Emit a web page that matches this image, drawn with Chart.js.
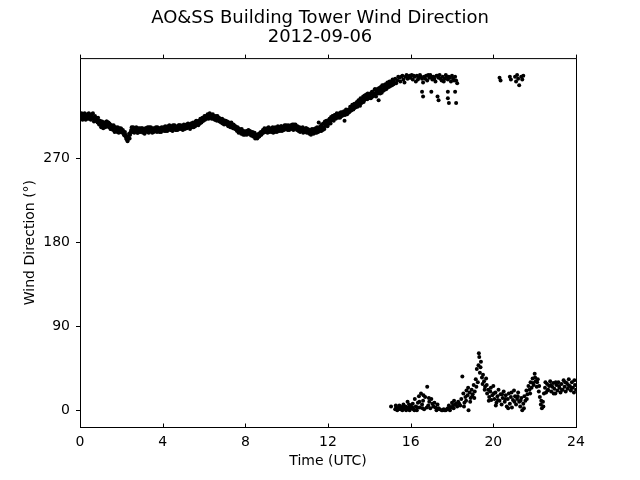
<!DOCTYPE html>
<html>
<head>
<meta charset="utf-8">
<script src="https://cdn.jsdelivr.net/npm/chart.js@4/dist/chart.umd.min.js"></script>
<style>
  body { margin: 0; background: #fff; }
  canvas { display: block; }
</style>
</head>
<body>
<canvas id="windChart" width="640" height="480"></canvas>
<script>
// hour (UTC), wind direction (deg)
const towerLine = [
  [0.00,316],[0.05,313],[0.10,315],[0.15,317],[0.20,314],[0.25,316],[0.30,313],[0.35,317],[0.40,315],[0.45,312],
  [0.50,315],[0.55,317],[0.60,314],[0.65,312],[0.70,313],[0.75,310],[0.80,312],[0.85,308],[0.90,310],[0.95,306],
  [1.00,308],[1.05,304],[1.10,306],[1.15,303],[1.20,307],[1.25,305],[1.30,309],[1.35,306],[1.40,303],[1.45,306],
  [1.50,301],[1.55,304],[1.60,300],[1.65,303],[1.70,299],[1.75,302],[1.80,298],[1.85,301],[1.90,302],[1.95,298],
  [2.00,301],[2.05,297],[2.10,298],[2.15,294],[2.20,295],[2.25,290],[2.30,288],[2.35,293],[2.40,291],[2.45,298],
  [2.50,303],[2.55,301],[2.60,298],[2.65,302],[2.70,299],[2.75,301],[2.80,297],[2.85,300],[2.90,302],[2.95,298],
  [3.00,300],[3.05,297],[3.10,301],[3.15,299],[3.20,302],[3.25,298],[3.30,300],[3.35,303],[3.40,299],[3.45,301],
  [3.50,297],[3.55,300],[3.60,302],[3.65,299],[3.70,301],[3.75,303],[3.80,300],[3.85,298],[3.90,301],[3.95,303],
  [4.00,300],[4.05,303],[4.10,301],[4.15,299],[4.20,302],[4.25,304],[4.30,301],[4.35,303],[4.40,300],[4.45,302],
  [4.50,305],[4.55,301],[4.60,303],[4.65,300],[4.70,304],[4.75,302],[4.80,305],[4.85,303],[4.90,301],[4.95,304],
  [5.00,303],[5.05,305],[5.10,302],[5.15,306],[5.20,304],[5.25,303],[5.30,306],[5.35,304],[5.40,307],[5.45,305],
  [5.50,303],[5.55,307],[5.60,309],[5.65,306],[5.70,308],[5.75,310],[5.80,307],[5.85,311],[5.90,309],[5.95,312],
  [6.00,313],[6.05,311],[6.10,315],[6.15,313],[6.20,316],[6.25,314],[6.30,317],[6.35,314],[6.40,315],[6.45,312],
  [6.50,314],[6.55,311],[6.60,313],[6.65,315],[6.70,311],[6.75,309],[6.80,312],[6.85,310],[6.90,307],[6.95,310],
  [7.00,308],[7.05,310],[7.10,306],[7.15,308],[7.20,305],[7.25,307],[7.30,304],[7.35,306],[7.40,302],[7.45,305],
  [7.50,301],[7.55,303],[7.60,299],[7.65,302],[7.70,298],[7.75,300],[7.80,296],[7.85,299],[7.90,295],[7.95,298],
  [8.00,296],[8.05,299],[8.10,297],[8.15,300],[8.20,296],[8.25,298],[8.30,295],[8.35,298],[8.40,294],[8.45,297],
  [8.50,293],[8.55,295],[8.60,292],[8.65,296],[8.70,294],[8.75,298],[8.80,296],[8.85,300],[8.90,298],[8.95,301],
  [9.00,299],[9.05,302],[9.10,298],[9.15,301],[9.20,299],[9.25,302],[9.30,300],[9.35,297],[9.40,301],[9.45,303],
  [9.50,300],[9.55,302],[9.60,299],[9.65,303],[9.70,301],[9.75,304],[9.80,300],[9.85,302],[9.90,305],[9.95,301],
  [10.00,303],[10.05,300],[10.10,304],[10.15,302],[10.20,305],[10.25,301],[10.30,303],[10.35,306],[10.40,302],[10.45,304],
  [10.50,300],[10.55,303],[10.60,301],[10.65,298],[10.70,302],[10.75,300],[10.80,297],[10.85,301],[10.90,299],[10.95,302],
  [11.00,298],[11.05,300],[11.10,296],[11.15,299],[11.20,297],[11.25,300],[11.30,296],[11.35,299],[11.40,302],[11.45,297],
  [11.50,300],[11.55,308],[11.60,299],[11.65,302],[11.70,306],[11.75,300],[11.80,303],[11.85,309],[11.90,305],[11.95,308],
  [12.00,306],[12.05,311],[12.10,309],[12.15,314],[12.20,311],[12.25,315],[12.30,313],[12.35,316],[12.40,314],[12.45,317],
  [12.50,315],[12.55,318],[12.60,314],[12.65,317],[12.70,319],[12.75,316],[12.80,310],[12.85,319],[12.90,321],[12.95,318],
  [13.00,322],[13.05,320],[13.10,324],[13.15,322],[13.20,326],[13.25,323],[13.30,327],[13.35,325],[13.40,330],[13.45,327],
  [13.50,331],[13.55,326],[13.60,333],[13.65,330],[13.70,336],[13.75,332],[13.80,335],[13.85,338],[13.90,333],[13.95,337],
  [14.00,336],[14.05,339],[14.10,335],[14.15,340],[14.20,337],[14.25,343],[14.30,338],[14.35,341],[14.40,344],[14.45,332],
  [14.50,342],[14.55,346],[14.60,340],[14.65,344],[14.70,348],[14.75,343],[14.80,347],[14.85,345],[14.90,350],[14.95,346],
  [15.00,349],[15.05,352],[15.10,348],[15.15,353],[15.20,351]
];

// readings in between, same band
const towerLineMid = [
  [0.025,312],[0.075,318],[0.125,311],[0.175,313],[0.225,318],[0.275,311],[0.325,316],[0.375,312],[0.425,318],[0.475,316],
  [0.525,311],[0.575,314],[0.625,318],[0.675,309],[0.725,315],[0.775,313],[0.825,309],[0.875,313],[0.925,306],[0.975,310],
  [1.025,303],[1.075,309],[1.125,302],[1.175,308],[1.225,303],[1.275,309],[1.325,304],[1.375,308],[1.425,307],[1.475,301],
  [1.525,305],[1.575,302],[1.625,305],[1.675,298],[1.725,303],[1.775,299],[1.825,303],[1.875,297],[1.925,299],[1.975,302],
  [2.025,298],[2.075,300],[2.125,295],[2.175,298],[2.225,292],[2.275,293],[2.325,290],[2.375,296],[2.425,295],[2.475,300],
  [2.525,298],[2.575,303],[2.625,297],[2.675,299],[2.725,303],[2.775,297],[2.825,302],[2.875,298],[2.925,299],[2.975,302],
  [3.025,302],[3.075,299],[3.125,296],[3.175,302],[3.225,300],[3.275,303],[3.325,297],[3.375,301],[3.425,303],[3.475,298],
  [3.525,302],[3.575,298],[3.625,299],[3.675,303],[3.725,298],[3.775,300],[3.825,302],[3.875,302],[3.925,298],[3.975,300],
  [4.025,302],[4.075,299],[4.125,304],[4.175,303],[4.225,299],[4.275,301],[4.325,305],[4.375,300],[4.425,304],[4.475,299],
  [4.525,302],[4.575,305],[4.625,300],[4.675,303],[4.725,300],[4.775,305],[4.825,301],[4.875,305],[4.925,303],[4.975,300],
  [5.025,306],[5.075,301],[5.125,304],[5.175,302],[5.225,307],[5.275,305],[5.325,301],[5.375,307],[5.425,303],[5.475,308],
  [5.525,305],[5.575,304],[5.625,310],[5.675,309],[5.725,305],[5.775,308],[5.825,312],[5.875,308],[5.925,313],[5.975,310],
  [6.025,315],[6.075,313],[6.125,312],[6.175,317],[6.225,312],[6.275,318],[6.325,315],[6.375,312],[6.425,317],[6.475,315],
  [6.525,311],[6.575,315],[6.625,310],[6.675,313],[6.725,313],[6.775,311],[6.825,308],[6.875,312],[6.925,311],[6.975,306],
  [7.025,310],[7.075,307],[7.125,309],[7.175,304],[7.225,308],[7.275,303],[7.325,308],[7.375,303],[7.425,306],[7.475,302],
  [7.525,304],[7.575,300],[7.625,303],[7.675,297],[7.725,301],[7.775,298],[7.825,301],[7.875,296],[7.925,299],[7.975,295],
  [8.025,298],[8.075,295],[8.125,299],[8.175,296],[8.225,299],[8.275,294],[8.325,297],[8.375,293],[8.425,296],[8.475,291],
  [8.525,295],[8.575,291],[8.625,294],[8.675,293],[8.725,297],[8.775,295],[8.825,298],[8.875,297],[8.925,302],[8.975,298],
  [9.025,301],[9.075,297],[9.125,303],[9.175,298],[9.225,301],[9.275,298],[9.325,303],[9.375,300],[9.425,298],[9.475,302],
  [9.525,298],[9.575,304],[9.625,301],[9.675,299],[9.725,304],[9.775,299],[9.825,303],[9.875,300],[9.925,303],[9.975,305],
  [10.025,301],[10.075,305],[10.125,300],[10.175,304],[10.225,302],[10.275,306],[10.325,300],[10.375,303],[10.425,306],[10.475,301],
  [10.525,304],[10.575,299],[10.625,303],[10.675,300],[10.725,299],[10.775,303],[10.825,299],[10.875,298],[10.925,302],[10.975,297],
  [11.025,301],[11.075,297],[11.125,300],[11.175,295],[11.225,301],[11.275,298],[11.325,301],[11.375,297],[11.425,300],[11.475,303],
  [11.525,298],[11.575,301],[11.625,304],[11.675,299],[11.725,303],[11.775,307],[11.825,301],[11.875,306],[11.925,310],[11.975,304],
  [12.025,308],[12.075,312],[12.125,307],[12.175,311],[12.225,315],[12.275,310],[12.325,316],[12.375,312],[12.425,318],[12.475,313],
  [12.525,317],[12.575,313],[12.625,319],[12.675,315],[12.725,318],[12.775,320],[12.825,316],[12.875,322],[12.925,317],[12.975,321],
  [13.025,319],[13.075,325],[13.125,321],[13.175,327],[13.225,322],[13.275,328],[13.325,324],[13.375,329],[13.425,325],[13.475,332],
  [13.525,328],[13.575,334],[13.625,329],[13.675,333],[13.725,330],[13.775,337],[13.825,333],[13.875,336],[13.925,339],[13.975,334],
  [14.025,338],[14.075,334],[14.125,341],[14.175,336],[14.225,339],[14.275,344],[14.325,336],[14.375,343],[14.425,339],[14.475,345],
  [14.525,339],[14.575,343],[14.625,348],[14.675,342],[14.725,346],[14.775,349],[14.825,344],[14.875,351],[14.925,347],[14.975,352],
  [15.025,347],[15.075,350],[15.125,354],[15.175,349]
];

const northHigh = [
  [15.25,355],[15.30,350],[15.35,353],[15.40,357],[15.45,356],[15.50,352],[15.55,357],[15.60,358],[15.65,354],[15.70,351],
  [15.75,357],[15.80,359],[15.85,355],[15.90,356],[15.95,358],[16.00,356],[16.05,359],[16.10,354],[16.15,358],[16.20,357],
  [16.25,352],[16.30,358],[16.35,354],[16.40,356],[16.45,359],[16.50,357],[16.55,355],[16.60,351],[16.65,357],[16.70,355],
  [16.75,358],[16.80,353],[16.85,359],[16.90,356],[16.95,359],[17.00,357],[17.05,354],[17.10,357],[17.15,355],[17.20,352],
  [17.25,358],[17.30,358],[17.35,356],[17.40,359],[17.45,355],[17.50,353],[17.55,357],[17.60,352],[17.65,355],[17.70,359],
  [17.75,357],[17.80,354],[17.85,357],[17.90,356],[17.95,352],[18.00,358],[18.05,355],[18.10,353],[18.15,357],[18.20,353],
  [18.25,350],
  [16.55,341],[16.60,336],[17.00,341],[17.30,336],[17.35,332],[17.80,341],[17.80,334],[17.85,329],[18.15,341],[18.20,329],
  [20.30,356],[20.35,353],[20.80,357],[20.85,354],[21.05,357],[21.10,352],[21.15,359],[21.20,355],[21.25,348],[21.35,357],
  [21.40,354],[21.45,358]
];

const northLow = [
  [15.05,4],[15.25,1],[15.28,5],[15.30,3],[15.35,0],[15.40,2],[15.45,5],[15.48,2],[15.50,1],[15.55,3],
  [15.60,0],[15.62,4],[15.65,6],[15.70,2],[15.75,4],[15.78,0],[15.80,1],[15.85,9],[15.90,3],[15.92,6],
  [15.95,0],[16.00,5],[16.05,2],[16.08,3],[16.10,7],[16.15,1],[16.18,0],[16.20,12],[16.25,4],[16.30,0],
  [16.33,3],[16.35,8],[16.40,15],[16.42,9],[16.45,3],[16.50,18],[16.55,6],[16.58,2],[16.60,10],[16.62,16],
  [16.65,1],[16.70,14],[16.78,3],[16.80,25],[16.85,5],[16.88,13],[16.90,9],[16.95,2],[17.00,12],[17.05,7],
  [17.10,4],[17.15,8],[17.20,3],[17.25,0],[17.30,6],[17.35,2],[17.40,1],[17.50,0],[17.55,0],[17.60,1],
  [17.65,0],[17.70,0],[17.75,1],[17.80,2],[17.85,5],[17.90,0],[17.95,3],[18.00,8],[18.05,5],[18.08,2],
  [18.10,10],[18.15,6],[18.20,7],[18.25,4],[18.30,9],[18.35,7],[18.40,5],[18.45,12],[18.50,36],[18.55,18],
  [18.58,4],[18.60,8],[18.65,14],[18.68,10],[18.70,21],[18.75,16],[18.78,24],[18.80,0],[18.85,19],[18.88,9],
  [18.90,13],[18.95,22],[18.98,15],[19.00,17],[19.05,27],[19.08,13],[19.10,20],[19.15,33],[19.18,25],[19.20,44],
  [19.25,30],[19.28,48],[19.30,61],[19.32,57],[19.35,40],[19.38,46],[19.40,52],[19.45,35],[19.48,28],[19.50,38],
  [19.55,31],[19.58,22],[19.60,25],[19.65,34],[19.68,27],[19.70,18],[19.75,22],[19.78,10],[19.80,14],[19.85,20],
  [19.88,24],[19.90,11],[19.95,16],[20.00,26],[20.02,18],[20.05,12],[20.10,19],[20.12,5],[20.15,8],[20.20,15],
  [20.22,11],[20.25,22],[20.30,10],[20.35,17],[20.40,6],[20.42,17],[20.45,13],[20.50,20],[20.55,9],[20.58,12],
  [20.60,16],[20.65,4],[20.70,12],[20.72,2],[20.75,18],[20.80,7],[20.85,14],[20.88,19],[20.90,3],[20.95,11],
  [21.00,21],[21.02,9],[21.05,15],[21.10,6],[21.15,12],[21.18,15],[21.20,19],[21.25,9],[21.30,4],[21.32,10],
  [21.35,13],[21.40,0],[21.45,7],[21.48,2],[21.50,15],[21.55,10],[21.60,21],[21.62,12],[21.65,17],[21.70,26],
  [21.75,22],[21.78,18],[21.80,30],[21.85,24],[21.90,34],[21.92,29],[21.95,27],[22.00,39],[22.02,35],[22.05,31],
  [22.10,25],[22.12,30],[22.15,33],[22.20,20],[22.22,26],[22.25,14],[22.30,6],[22.32,10],[22.35,2],[22.40,9],
  [22.42,4],[22.45,18],[22.50,24],[22.52,30],[22.55,19],[22.60,28],[22.62,21],[22.65,22],[22.70,26],[22.75,31],
  [22.78,27],[22.80,20],[22.85,25],[22.90,29],[22.92,18],[22.95,23],[23.00,18],[23.02,30],[23.05,27],[23.10,21],
  [23.15,30],[23.18,26],[23.20,24],[23.25,19],[23.30,28],[23.32,22],[23.35,22],[23.40,32],[23.45,25],[23.48,30],
  [23.50,20],[23.55,29],[23.60,23],[23.62,27],[23.65,33],[23.70,26],[23.75,21],[23.78,24],[23.80,30],[23.85,24],
  [23.90,19],[23.92,32],[23.95,27],[24.00,22]
];

const yTickValues = [0, 90, 180, 270];
const chartTitle = ['AO&SS Building Tower Wind Direction', '2012-09-06'];

const font = 'DejaVu Sans';

function toPoints(rows) {
    return rows.map(r => ({x: r[0], y: r[1]}));
}

// box around the plot plus the little ticks on top and bottom
const frameTicks = {
    id: 'frameTicks',
    afterDraw(chart) {
        const {ctx, chartArea: a, scales: {x}} = chart;
        ctx.save();
        ctx.strokeStyle = '#000';
        ctx.lineWidth = 1;
        ctx.strokeRect(a.left + 0.5, a.top + 0.5, a.right - a.left, a.bottom - a.top);
        x.ticks.forEach(t => {
            const px = Math.round(x.getPixelForValue(t.value)) + 0.5;
            ctx.beginPath();
            ctx.moveTo(px, a.top);
            ctx.lineTo(px, a.top - 3.5);
            ctx.moveTo(px, a.bottom);
            ctx.lineTo(px, a.bottom - 3.5);
            ctx.stroke();
        });
        ctx.restore();
    }
};

const dotStyle = {
    backgroundColor: '#000',
    borderWidth: 0,
    pointRadius: 2,
    pointHoverRadius: 2
};

new Chart(document.getElementById('windChart').getContext('2d'), {
    type: 'scatter',
    data: {
        datasets: [
            Object.assign({label: 'tower', data: toPoints(towerLine)}, dotStyle),
            Object.assign({label: 'tower mid', data: toPoints(towerLineMid)}, dotStyle),
            Object.assign({label: 'north high', data: toPoints(northHigh)}, dotStyle),
            Object.assign({label: 'north low', data: toPoints(northLow)}, dotStyle)
        ]
    },
    options: {
        responsive: false,
        animation: false,
        layout: {padding: 0},
        plugins: {
            legend: {display: false},
            tooltip: {enabled: false},
            title: {
                display: true,
                text: chartTitle,
                color: '#000',
                font: {family: font, size: 18, weight: 'normal', lineHeight: 1.1},
                padding: {top: 8, bottom: 10.5}
            }
        },
        scales: {
            x: {
                type: 'linear',
                min: 0,
                max: 24,
                afterFit: s => { s.height = 53; },
                grid: {display: false, drawTicks: false},
                border: {display: false},
                ticks: {stepSize: 4, color: '#000', padding: 7, font: {family: font, size: 14}},
                title: {display: true, text: 'Time (UTC)', color: '#000', padding: {top: 0, bottom: 10},
                        font: {family: font, size: 14}}
            },
            y: {
                type: 'linear',
                min: -18,
                max: 377,
                afterFit: s => { s.width = 80; },
                afterBuildTicks: s => { s.ticks = yTickValues.map(v => ({value: v})); },
                grid: {display: true, drawOnChartArea: false, drawTicks: true, tickLength: 4, color: '#000'},
                border: {display: false},
                ticks: {color: '#000', padding: 6, font: {family: font, size: 14}},
                title: {display: true, text: 'Wind Direction (°)', color: '#000', padding: {top: 22, bottom: 0},
                        font: {family: font, size: 14}}
            },
            // empty right margin so the title centres on the page
            yRight: {
                type: 'linear',
                position: 'right',
                afterFit: s => { s.width = 64; },
                grid: {display: false},
                border: {display: false},
                ticks: {display: false}
            }
        }
    },
    plugins: [frameTicks]
});
</script>
</body>
</html>
